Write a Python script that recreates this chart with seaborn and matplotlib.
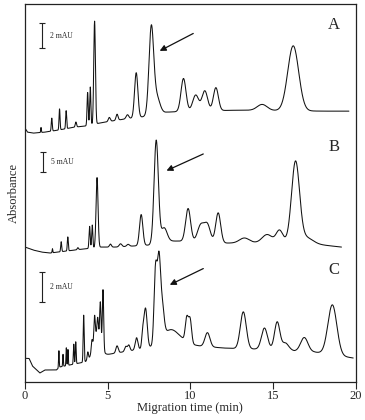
import numpy as np
import pandas as pd
import matplotlib
matplotlib.use("Agg")
import matplotlib.pyplot as plt
import seaborn as sns

# three stacked electropherograms (y in display units, offset per trace)
# baseline knots + peak tables: time (min), height, sigma (min)
endA = 19.6
baseA_t = [0, 0.15, 0.5, 1.2, 2.0, 3.0, 3.6, 4.5, 5.2, 6.0, 7.0, 7.4, 8.6, 10.0, 13.0, 18.0, 19.6]
baseA_y = [254, 250, 249, 250, 252, 255, 256, 259, 261, 263, 265, 266, 270, 271, 272, 271, 271]
peakA_t = [0.97, 1.62, 2.09, 2.49, 3.08, 3.79, 3.95, 4.21, 5.10, 5.57, 6.20, 6.73, 7.64, 7.95,
           9.59, 10.33, 10.88, 11.55, 14.35, 16.23]
peakA_h = [5, 13, 21, 18, 5, 33, 38, 103, 4, 6, 4, 45, 85, 18, 33, 16, 20, 23, 6, 65]
peakA_w = [0.02, 0.03, 0.03, 0.03, 0.04, 0.035, 0.035, 0.05, 0.06, 0.06, 0.08, 0.1, 0.14, 0.2,
           0.15, 0.18, 0.17, 0.15, 0.3, 0.33]

endB = 19.15
baseB_t = [0, 0.5, 1.0, 1.5, 2.5, 3.5, 4.6, 5.5, 6.5, 7.5, 8.6, 9.3, 12.0, 13.0, 16.0, 17.5, 19.15]
baseB_y = [135, 132, 130, 129, 131, 133, 135, 135, 136, 137, 141, 141, 139, 139, 140, 138, 135]
peakB_t = [1.66, 2.19, 2.59, 3.20, 3.91, 4.07, 4.36, 5.17, 5.78, 6.24, 7.03, 7.94, 8.41, 9.87,
           10.64, 11.04, 11.69, 13.27, 14.65, 15.40, 16.37, 17.0]
peakB_h = [4, 10, 14, 2, 22, 23, 70, 3, 3, 2, 31, 103, 14, 33, 17, 17, 30, 5, 8, 12, 80, 6]
peakB_w = [0.02, 0.03, 0.03, 0.04, 0.035, 0.035, 0.06, 0.06, 0.08, 0.08, 0.1, 0.13, 0.18, 0.15,
           0.2, 0.18, 0.15, 0.3, 0.3, 0.2, 0.24, 0.4]

endC = 19.86
baseC_t = [0, 0.25, 0.45, 0.9, 1.2, 1.9, 2.1, 3.0, 3.6, 4.0, 4.85, 5.5, 6.3, 7.0, 7.8, 9.5,
           10.6, 12.0, 13.5, 15.8, 16.3, 17.5, 19.86]
baseC_y = [23.7, 23.5, 16, 9, 12, 12, 15, 18, 20, 22, 27, 29, 31, 33, 35, 39, 36, 34, 33, 33, 31, 30, 24]
peakC_t = [2.05, 2.30, 2.50, 2.60, 2.95, 3.07, 3.55, 3.80, 4.05, 4.21, 4.35, 4.40, 4.56, 4.72,
           5.57, 6.10, 6.28, 6.75, 7.12, 7.29, 7.90, 8.10, 8.28, 8.80, 9.79, 9.99, 11.04, 13.21,
           14.49, 15.26, 15.75, 16.90, 18.60]
peakC_h = [17, 12, 18, 16, 20, 22, 47, 8, 10, 23, 25, 16, 39, 60, 7, 5, 6, 12, 12, 40, 75, 72,
           35, 15, 24, 24, 14, 37, 21, 27, 6, 14, 50]
peakC_w = [0.02, 0.02, 0.02, 0.02, 0.025, 0.025, 0.03, 0.04, 0.04, 0.04, 0.22, 0.04, 0.04, 0.04,
           0.07, 0.07, 0.07, 0.08, 0.06, 0.1, 0.09, 0.09, 0.12, 0.5, 0.09, 0.09, 0.15, 0.18, 0.18,
           0.16, 0.2, 0.22, 0.27]

labels = ["A", "B", "C"]
scale_text = ["2 mAU", "5 mAU", "2 mAU"]


def build_trace(end, bt, by, pt, ph, pw):
    t = np.linspace(0, end, 4000)
    y = np.interp(t, bt, by)
    for c, h, w in zip(pt, ph, pw):
        y = y + h * np.exp(-(t - c) ** 2 / (2 * w ** 2))
    return t, y


def main():
    sns.set_style("ticks")
    plt.rcParams['font.family'] = ['Liberation Serif', 'DejaVu Serif']

    frames = []
    traces = [
        (endA, baseA_t, baseA_y, peakA_t, peakA_h, peakA_w),
        (endB, baseB_t, baseB_y, peakB_t, peakB_h, peakB_w),
        (endC, baseC_t, baseC_y, peakC_t, peakC_h, peakC_w),
    ]
    for name, tr in zip(labels, traces):
        t, y = build_trace(*tr)
        frames.append(pd.DataFrame({'time': t, 'signal': y, 'trace': name}))
    df = pd.concat(frames, ignore_index=True)

    fig = plt.figure(figsize=(3.65, 4.2), dpi=100)
    ax = fig.add_axes([0.0685, 0.0905, 0.9055, 0.8995])

    sns.lineplot(data=df, x='time', y='signal', hue='trace', palette=['#111111'] * 3,
                 estimator=None, legend=False, linewidth=0.75, ax=ax)

    ax.set_xlim(0, 20)
    ax.set_ylim(0, 378)
    ax.set_xticks([0, 5, 10, 15, 20])
    ax.set_yticks([])
    ax.set_xlabel('Migration time (min)', fontsize=9, labelpad=0)
    ax.set_ylabel('Absorbance', fontsize=9, labelpad=4)
    ax.tick_params(axis='x', labelsize=9, length=5, width=0.8, pad=1, direction='out')
    for s in ax.spines.values():
        s.set_linewidth(0.9)
        s.set_color('#222222')

    # panel letters
    letter_y = [357, 235, 112]
    for name, ly in zip(labels, letter_y):
        ax.text(18.7, ly, name, fontsize=12, ha='center', va='center')

    # scale bars
    bars = [(1.05, 334, 359, 346.5), (1.11, 209.7, 230.3, 220), (1.05, 80.3, 110.3, 95.3)]
    for (bx, y0, y1, ty), txt in zip(bars, scale_text):
        ax.vlines(bx, y0, y1, color='#222222', lw=0.8)
        ax.hlines([y0, y1], bx - 0.19, bx + 0.19, color='#222222', lw=0.8)
        ax.text(bx + 0.45, ty, txt, fontsize=5.5, va='center', ha='left')

    # arrows pointing to the peak of interest
    arrows = [((8.0, 330), (10.33, 350)), ((8.41, 210.3), (10.94, 229.3)), ((8.61, 96), (10.94, 114.7))]
    for head, tail in arrows:
        ax.annotate('', xy=head, xytext=tail,
                    arrowprops=dict(arrowstyle='-|>', color='#111111', lw=0.9, mutation_scale=9))

    fig.savefig('out.png', dpi=100)


if __name__ == "__main__":
    main()
